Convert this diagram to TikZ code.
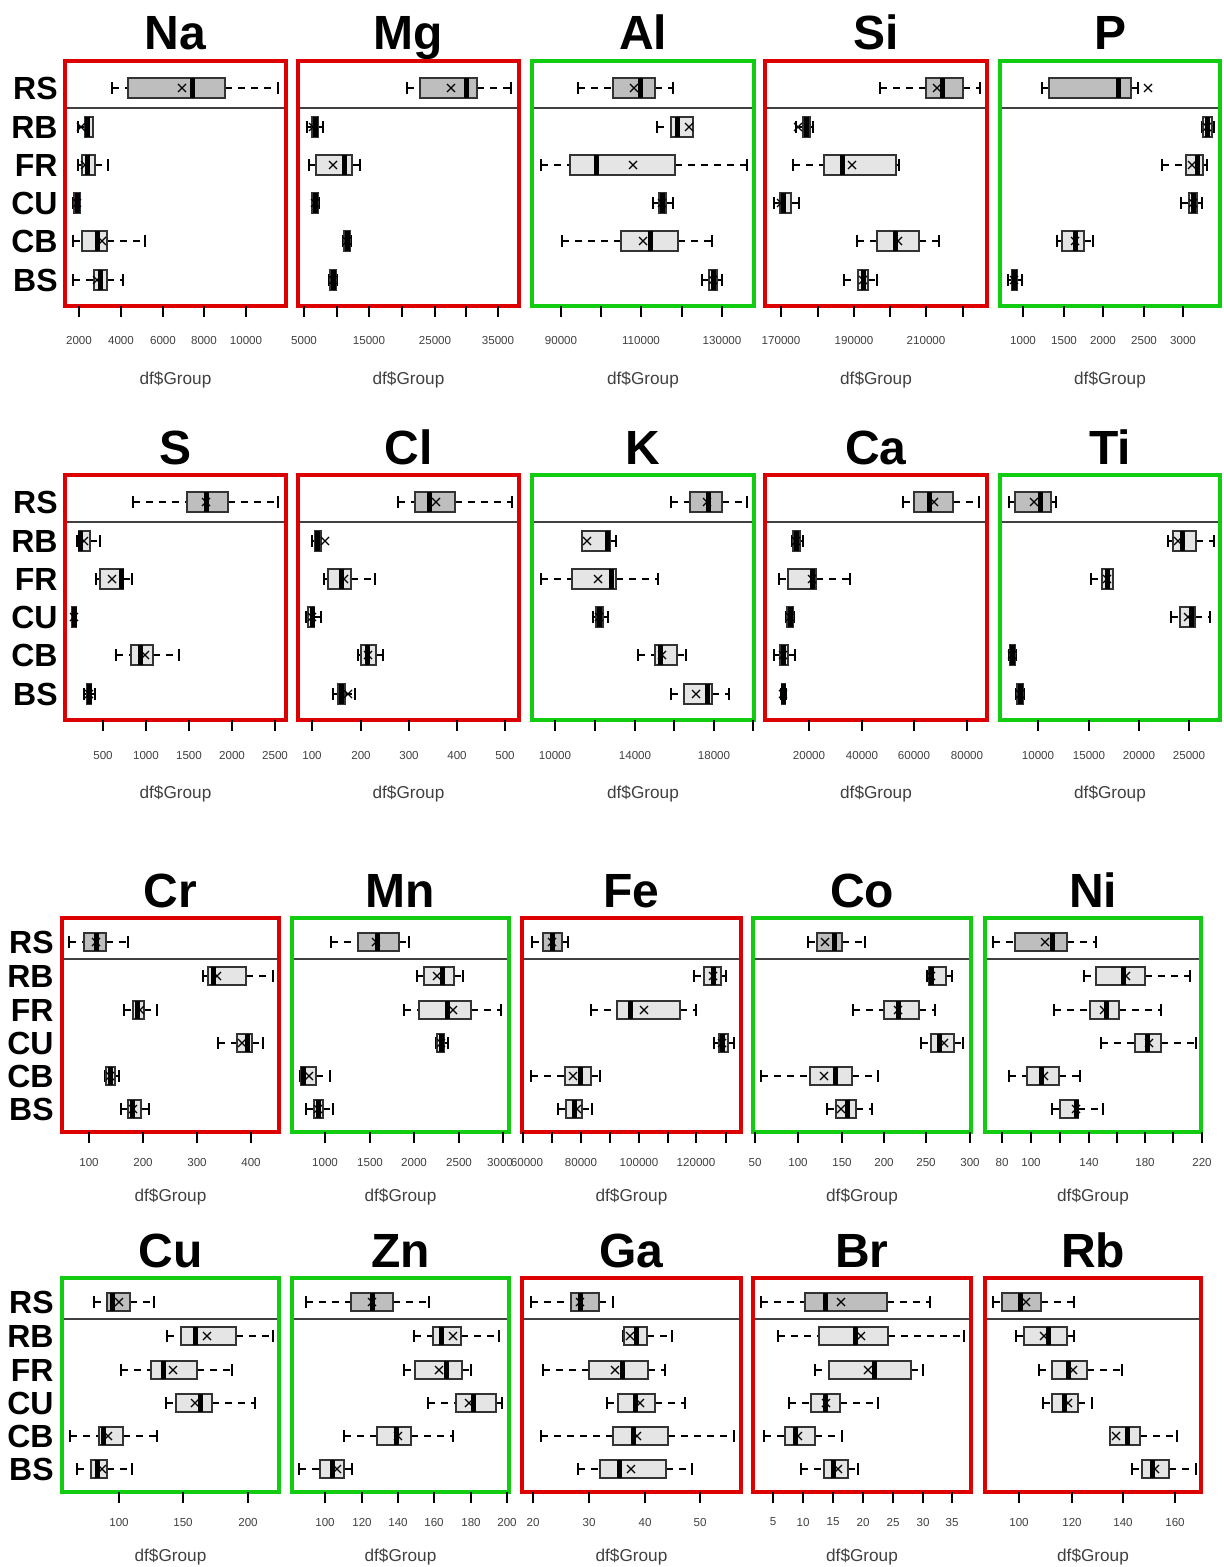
\documentclass[tikz,border=0pt]{standalone}
\usepackage{fontspec}
\setmainfont{Liberation Sans}
\definecolor{frred}{HTML}{DD0000}
\definecolor{frgreen}{HTML}{11CC11}
\definecolor{rsfill}{HTML}{BEBEBE}
\definecolor{grfill}{HTML}{E5E5E5}
\definecolor{axtext}{HTML}{404040}
\tikzset{
  elemtitle/.style={font=\fontsize{24}{24}\selectfont\bfseries,anchor=base,inner sep=0pt},
  grplabel/.style={font=\fontsize{16}{16}\selectfont\bfseries,anchor=east,inner sep=0pt},
  ticklab/.style={font=\fontsize{5.8}{6}\selectfont,text=axtext,inner sep=0pt},
  axtitle/.style={font=\fontsize{8.6}{9}\selectfont,text=axtext,inner sep=0pt},
  boxedge/.style={line width=1pt,draw=black!80},
  whisker/.style={line width=0.8pt,dash pattern=on 3.5pt off 3pt},
  staple/.style={line width=0.8pt},
}
\newcommand{\boxhalf}{10}
% one box: y, lower whisker, q1, median, q3, upper whisker, mean, fill
\newcommand{\bplot}[8]{%
  \draw[whisker] (#2,#1) -- (#3,#1) (#5,#1) -- (#6,#1);
  \draw[staple] (#2,#1-6) -- (#2,#1+6) (#6,#1-6) -- (#6,#1+6);
  \draw[boxedge,fill=#8] (#3,#1-\boxhalf) rectangle (#5,#1+\boxhalf);
  \draw[line width=2.5pt] (#4,#1-\boxhalf) -- (#4,#1+\boxhalf);
  \draw[line width=0.6pt] (#7-4,#1-4) -- (#7+4,#1+4) (#7-4,#1+4) -- (#7+4,#1-4);
}
% frame of one element: name, left, right, top, line, bottom, colour, axis title y
\newcommand{\panel}[8]{%
  \node[elemtitle] (t#1) at ({(#2+#3)/2},#4-11) {#1};
  \draw[line width=0.8pt,draw=black!75] (#2,#5) -- (#3,#5);
  \node[axtitle] (x#1) at ({(#2+#3)/2},#8) {df\$Group};
  \draw[line width=1.6pt,draw=#7] (#2,#4) rectangle (#3,#6);
}
% ticks under a frame: bottom, label y, list x/label
\newcommand{\xticks}[3]{%
  \foreach \tx/\tl in {#3}{
    \draw[line width=0.8pt] (\tx,#1) -- (\tx,#1+11);
    \node[ticklab] (k#1-\tx) at (\tx,#2) {\tl};
  }}

\begin{document}
\begin{tikzpicture}[x=0.5pt,y=-0.5pt]
  \useasboundingbox (0,0) rectangle (1223,1567);

  % group names
  \foreach \g/\gy in {RS/88,RB/127,FR/165,CU/203,CB/241,BS/280}{
    \node[grplabel] (a\g) at (58,\gy) {\g};
    \node[grplabel] (b\g) at (58,\gy+414) {\g};
  }
  \foreach \g/\gy in {RS/942,RB/976,FR/1010,CU/1043,CB/1076,BS/1109}{
    \node[grplabel] (c\g) at (54,\gy) {\g};
    \node[grplabel] (d\g) at (54,\gy+360) {\g};
  }

  % ---- row 1
  \bplot{88}{112}{128}{192}{225}{278}{182}{rsfill}
  \bplot{127}{78}{85}{87}{93}{93}{81}{grfill}
  \bplot{165}{78}{82}{87}{95}{108}{85}{grfill}
  \bplot{203}{73}{74}{77}{80}{80}{77}{grfill}
  \bplot{241}{73}{82}{97}{107}{145}{102}{grfill}
  \bplot{280}{73}{94}{100}{107}{123}{97}{grfill}
  \panel{Na}{65}{286}{61}{108}{306}{frred}{380}
  \xticks{306}{341}{79/2000,121/4000,163/6000,204/8000,246/10000}

  \bplot{88}{407}{420}{466}{477}{511}{451}{rsfill}
  \bplot{127}{307}{312}{315}{318}{323}{313}{grfill}
  \bplot{165}{309}{316}{344}{352}{360}{333}{grfill}
  \bplot{203}{312}{312}{315}{318}{319}{315}{grfill}
  \bplot{241}{343}{344}{347}{350}{351}{347}{grfill}
  \bplot{280}{329}{330}{333}{336}{337}{333}{grfill}
  \panel{Mg}{298}{519}{61}{108}{306}{frred}{380}
  \xticks{306}{341}{304/5000,337/{},369/15000,402/{},435/25000,466/{},498/35000}

  \bplot{88}{578}{613}{640}{655}{673}{634}{rsfill}
  \bplot{127}{657}{671}{677}{693}{693}{689}{grfill}
  \bplot{165}{541}{570}{596}{675}{747}{633}{grfill}
  \bplot{203}{653}{659}{662}{666}{673}{662}{grfill}
  \bplot{241}{562}{621}{650}{678}{712}{643}{grfill}
  \bplot{280}{702}{709}{713}{717}{722}{713}{grfill}
  \panel{Al}{532}{754}{61}{108}{306}{frgreen}{380}
  \xticks{306}{341}{561/90000,601/{},641/110000,682/{},722/130000}

  \bplot{88}{880}{926}{942}{963}{980}{937}{rsfill}
  \bplot{127}{796}{803}{806}{810}{813}{798}{grfill}
  \bplot{165}{793}{824}{842}{896}{899}{852}{grfill}
  \bplot{203}{774}{780}{783}{791}{799}{781}{grfill}
  \bplot{241}{857}{877}{895}{919}{939}{898}{grfill}
  \bplot{280}{844}{858}{863}{868}{877}{863}{grfill}
  \panel{Si}{765}{987}{61}{108}{306}{frred}{380}
  \xticks{306}{341}{781/170000,818/{},854/190000,890/{},926/210000,963/{}}

  \bplot{88}{1042}{1049}{1118}{1131}{1138}{1148}{rsfill}
  \bplot{127}{1202}{1203}{1207}{1212}{1214}{1207}{grfill}
  \bplot{165}{1162}{1186}{1197}{1203}{1207}{1192}{grfill}
  \bplot{203}{1181}{1189}{1193}{1197}{1202}{1193}{grfill}
  \bplot{241}{1057}{1062}{1075}{1084}{1093}{1075}{grfill}
  \bplot{280}{1008}{1012}{1014}{1017}{1022}{1014}{grfill}
  \panel{P}{1000}{1220}{61}{108}{306}{frgreen}{380}
  \xticks{306}{341}{1023/1000,1064/1500,1103/2000,1144/2500,1183/3000}

  % ---- row 2
  \bplot{502}{133}{187}{206}{228}{278}{206}{rsfill}
  \bplot{541}{77}{79}{80}{90}{100}{84}{grfill}
  \bplot{579}{96}{100}{121}{123}{132}{112}{grfill}
  \bplot{617}{72}{72}{74}{76}{76}{74}{grfill}
  \bplot{655}{116}{131}{140}{153}{179}{145}{grfill}
  \bplot{694}{84}{87}{89}{91}{95}{89}{grfill}
  \panel{S}{65}{286}{475}{522}{720}{frred}{794}
  \xticks{720}{755}{103/500,146/1000,189/1500,232/2000,275/2500}

  \bplot{502}{398}{415}{429}{455}{512}{436}{rsfill}
  \bplot{541}{312}{315}{317}{321}{321}{325}{grfill}
  \bplot{579}{324}{328}{341}{351}{375}{344}{grfill}
  \bplot{617}{306}{308}{312}{314}{321}{312}{grfill}
  \bplot{655}{358}{361}{367}{376}{383}{368}{grfill}
  \bplot{694}{333}{338}{341}{345}{355}{348}{grfill}
  \panel{Cl}{298}{519}{475}{522}{720}{frred}{794}
  \xticks{720}{755}{312/100,361/200,409/300,457/400,505/500}

  \bplot{502}{671}{690}{708}{722}{747}{707}{rsfill}
  \bplot{541}{582}{582}{607}{610}{616}{587}{grfill}
  \bplot{579}{541}{572}{611}{616}{658}{598}{grfill}
  \bplot{617}{593}{596}{599}{603}{608}{599}{grfill}
  \bplot{655}{638}{655}{660}{677}{686}{662}{grfill}
  \bplot{694}{671}{684}{707}{712}{729}{696}{grfill}
  \panel{K}{532}{754}{475}{522}{720}{frgreen}{794}
  \xticks{720}{755}{555/10000,595/{},635/14000,674/{},714/18000,753/{}}

  \bplot{502}{903}{914}{929}{953}{979}{934}{rsfill}
  \bplot{541}{792}{793}{796}{800}{803}{796}{grfill}
  \bplot{579}{779}{788}{812}{816}{850}{812}{grfill}
  \bplot{617}{786}{787}{790}{793}{794}{790}{grfill}
  \bplot{655}{774}{780}{783}{788}{795}{783}{grfill}
  \bplot{694}{781}{782}{783}{785}{786}{783}{grfill}
  \panel{Ca}{765}{987}{475}{522}{720}{frred}{794}
  \xticks{720}{755}{809/20000,862/40000,914/60000,967/80000}

  \bplot{502}{1009}{1015}{1040}{1051}{1056}{1034}{rsfill}
  \bplot{541}{1168}{1173}{1182}{1196}{1214}{1178}{grfill}
  \bplot{579}{1091}{1102}{1107}{1113}{1113}{1107}{grfill}
  \bplot{617}{1171}{1180}{1191}{1195}{1210}{1188}{grfill}
  \bplot{655}{1009}{1010}{1012}{1015}{1016}{1012}{grfill}
  \bplot{694}{1016}{1017}{1020}{1023}{1024}{1020}{grfill}
  \panel{Ti}{1000}{1220}{475}{522}{720}{frgreen}{794}
  \xticks{720}{755}{1038/10000,1089/15000,1139/20000,1189/25000}

  % ---- row 3
  \renewcommand{\boxhalf}{9}
  \bplot{942}{69}{84}{96}{106}{128}{96}{rsfill}
  \bplot{976}{203}{208}{213}{246}{273}{217}{grfill}
  \bplot{1010}{124}{133}{137}{144}{157}{140}{grfill}
  \bplot{1043}{218}{237}{247}{252}{263}{242}{grfill}
  \bplot{1076}{105}{106}{110}{115}{119}{110}{grfill}
  \bplot{1109}{121}{128}{132}{141}{149}{133}{grfill}
  \panel{Cr}{62}{279}{918}{959}{1132}{frred}{1197}
  \xticks{1132}{1162}{89/100,143/200,197/300,251/400}

  \bplot{942}{331}{358}{377}{399}{409}{376}{rsfill}
  \bplot{976}{417}{424}{442}{454}{463}{437}{grfill}
  \bplot{1010}{404}{419}{447}{471}{501}{453}{grfill}
  \bplot{1043}{436}{437}{441}{444}{448}{441}{grfill}
  \bplot{1076}{300}{301}{303}{316}{330}{309}{grfill}
  \bplot{1109}{306}{314}{318}{323}{333}{318}{grfill}
  \panel{Mn}{292}{509}{918}{959}{1132}{frgreen}{1197}
  \xticks{1132}{1162}{325/1000,370/1500,414/2000,459/2500}
  \draw[line width=0.8pt] (503,1132) -- (503,1143);
  \node[ticklab] (mn3000) at (500,1162) {3000};

  \bplot{942}{532}{543}{552}{562}{568}{552}{rsfill}
  \bplot{976}{694}{704}{713}{721}{726}{713}{grfill}
  \bplot{1010}{591}{617}{630}{680}{696}{644}{grfill}
  \bplot{1043}{714}{719}{722}{728}{734}{722}{grfill}
  \bplot{1076}{531}{565}{580}{591}{600}{573}{grfill}
  \bplot{1109}{558}{566}{574}{582}{592}{577}{grfill}
  \panel{Fe}{522}{741}{918}{959}{1132}{frred}{1197}
  \xticks{1132}{1162}{552/{},581/80000,610/{},639/100000,668/{},696/120000,726/{}}
  \draw[line width=0.8pt] (523,1132) -- (523,1143);
  \node[ticklab] (fe60000) at (527,1162) {60000};

  \bplot{942}{808}{817}{834}{842}{865}{825}{rsfill}
  \bplot{976}{927}{929}{931}{946}{952}{931}{grfill}
  \bplot{1010}{853}{884}{898}{919}{935}{898}{grfill}
  \bplot{1043}{921}{931}{939}{954}{963}{944}{grfill}
  \bplot{1076}{761}{810}{835}{852}{878}{824}{grfill}
  \bplot{1109}{827}{836}{847}{856}{872}{841}{grfill}
  \panel{Co}{753}{971}{918}{959}{1132}{frgreen}{1197}
  \xticks{1132}{1162}{755/50,798/100,842/150,884/200,926/250,970/300}

  \bplot{942}{993}{1015}{1052}{1067}{1096}{1045}{rsfill}
  \bplot{976}{1084}{1096}{1123}{1145}{1190}{1126}{grfill}
  \bplot{1010}{1054}{1090}{1106}{1119}{1161}{1104}{grfill}
  \bplot{1043}{1101}{1135}{1147}{1161}{1196}{1149}{grfill}
  \bplot{1076}{1009}{1027}{1041}{1059}{1080}{1044}{grfill}
  \bplot{1109}{1052}{1060}{1076}{1078}{1103}{1076}{grfill}
  \panel{Ni}{985}{1201}{918}{959}{1132}{frgreen}{1197}
  \xticks{1132}{1162}{1002/80,1031/100,1060/{},1089/140,1117/{},1145/180,1173/{},1202/220}

  % ---- row 4
  \bplot{1302}{94}{107}{112}{130}{154}{119}{rsfill}
  \bplot{1336}{167}{181}{195}{236}{273}{207}{grfill}
  \bplot{1370}{121}{151}{163}{197}{232}{173}{grfill}
  \bplot{1403}{166}{176}{200}{212}{255}{195}{grfill}
  \bplot{1436}{70}{99}{103}{123}{157}{108}{grfill}
  \bplot{1469}{77}{91}{97}{107}{132}{102}{grfill}
  \panel{Cu}{62}{279}{1278}{1319}{1492}{frgreen}{1557}
  \xticks{1492}{1522}{119/100,183/150,248/200}

  \bplot{1302}{306}{351}{372}{393}{429}{372}{rsfill}
  \bplot{1336}{414}{433}{441}{461}{499}{453}{grfill}
  \bplot{1370}{404}{415}{446}{462}{471}{439}{grfill}
  \bplot{1403}{428}{456}{473}{496}{502}{469}{grfill}
  \bplot{1436}{344}{377}{396}{411}{453}{398}{grfill}
  \bplot{1469}{299}{320}{332}{344}{352}{337}{grfill}
  \panel{Zn}{292}{509}{1278}{1319}{1492}{frgreen}{1557}
  \xticks{1492}{1522}{325/100,362/120,398/140,434/160,471/180,507/200}

  \bplot{1302}{531}{571}{580}{599}{613}{580}{rsfill}
  \bplot{1336}{623}{624}{636}{647}{672}{630}{grfill}
  \bplot{1370}{543}{589}{622}{648}{665}{615}{grfill}
  \bplot{1403}{607}{618}{635}{655}{685}{640}{grfill}
  \bplot{1436}{541}{613}{633}{668}{734}{637}{grfill}
  \bplot{1469}{578}{600}{619}{666}{692}{631}{grfill}
  \panel{Ga}{522}{741}{1278}{1319}{1492}{frred}{1557}
  \xticks{1492}{1522}{533/20,589/30,645/40,700/50}

  \bplot{1302}{761}{805}{825}{887}{930}{841}{rsfill}
  \bplot{1336}{778}{819}{855}{888}{964}{861}{grfill}
  \bplot{1370}{815}{829}{874}{911}{923}{868}{grfill}
  \bplot{1403}{789}{811}{825}{840}{878}{826}{grfill}
  \bplot{1436}{764}{785}{795}{815}{842}{798}{grfill}
  \bplot{1469}{801}{824}{833}{848}{858}{838}{grfill}
  \panel{Br}{753}{971}{1278}{1319}{1492}{frred}{1557}
  \xticks{1492}{1522}{773/5,803/10,833/15,863/20,893/25,923/30,952/35}

  \bplot{1302}{993}{1002}{1020}{1041}{1074}{1026}{rsfill}
  \bplot{1336}{1016}{1024}{1048}{1067}{1074}{1044}{grfill}
  \bplot{1370}{1039}{1052}{1068}{1087}{1122}{1073}{grfill}
  \bplot{1403}{1043}{1052}{1064}{1078}{1092}{1068}{grfill}
  \bplot{1436}{1110}{1110}{1127}{1140}{1177}{1116}{grfill}
  \bplot{1469}{1132}{1142}{1152}{1169}{1196}{1155}{grfill}
  \panel{Rb}{985}{1201}{1278}{1319}{1492}{frred}{1557}
  \xticks{1492}{1522}{1019/100,1072/120,1123/140,1175/160}
\end{tikzpicture}
\end{document}
